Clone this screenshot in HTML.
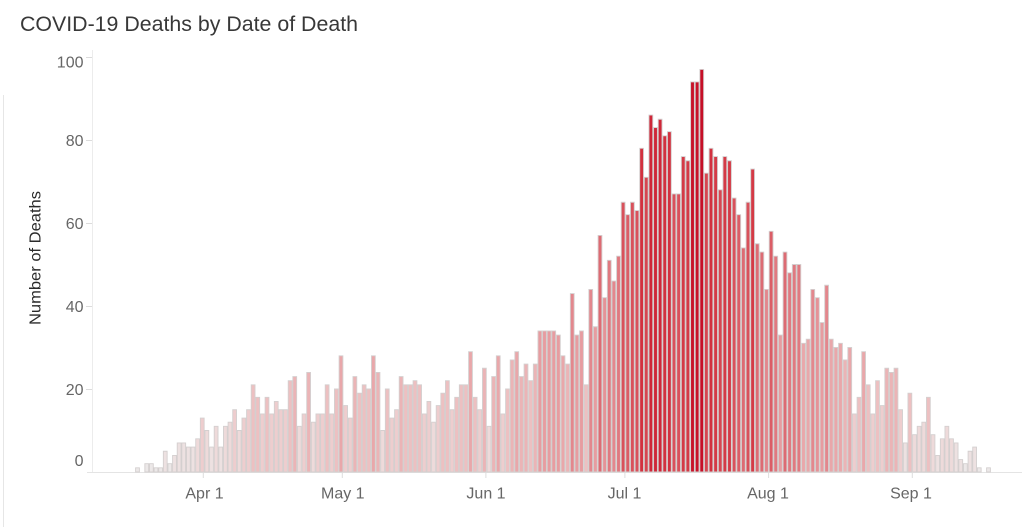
<!DOCTYPE html>
<html>
<head>
<meta charset="utf-8">
<style>
html,body{margin:0;padding:0;background:#fff;}
svg{display:block;}
text{font-family:"Liberation Sans",sans-serif;}
.b path{vector-effect:non-scaling-stroke;stroke:#d4cfcf;stroke-width:0.9;}
</style>
</head>
<body>
<svg width="1024" height="527" viewBox="0 0 1024 527" xmlns="http://www.w3.org/2000/svg">
<rect x="0" y="0" width="1024" height="527" fill="#fff"/>
<text x="20" y="31" font-size="21.5" fill="#383838" textLength="338" lengthAdjust="spacingAndGlyphs">COVID-19 Deaths by Date of Death</text>
<line x1="3.5" y1="95" x2="3.5" y2="527" stroke="#e6e6e6" stroke-width="1"/>
<text transform="translate(40.5,258) rotate(-90)" text-anchor="middle" font-size="16" fill="#2a2a2a" textLength="134" lengthAdjust="spacingAndGlyphs">Number of Deaths</text>
<line x1="92.5" y1="50" x2="92.5" y2="472" stroke="#ececec" stroke-width="1"/>
<path d="M86 57.5H92M86 140.5H92M86 223.5H92M86 306.5H92M86 389.5H92" stroke="#dcdcdc" stroke-width="1"/>
<g font-size="16" fill="#666" text-anchor="end">
<text x="83.5" y="67.5">100</text>
<text x="83.5" y="146">80</text>
<text x="83.5" y="229">60</text>
<text x="83.5" y="312">40</text>
<text x="83.5" y="395">20</text>
<text x="83.5" y="466">0</text>
</g>
<line x1="87" y1="472.5" x2="1022" y2="472.5" stroke="#e4e4e4" stroke-width="1"/>
<path d="M203.3 473V478M342.3 473V478M485.9 473V478M624.9 473V478M768.6 473V478M912.3 473V478" stroke="#dedede" stroke-width="1"/>
<g font-size="16" fill="#666" text-anchor="middle">
<text x="204.5" y="498.5">Apr 1</text>
<text x="342.8" y="498.5">May 1</text>
<text x="486" y="498.5">Jun 1</text>
<text x="624.5" y="498.5">Jul 1</text>
<text x="768" y="498.5">Aug 1</text>
<text x="911" y="498.5">Sep 1</text>
</g>
<g class="b" transform="translate(135.6,472) scale(4.625,-4.15)">
<path fill="#ece8e8" d="M0 0h.82v1h-.82zM2 0h.82v2h-.82zM3 0h.82v2h-.82zM4 0h.82v1h-.82zM5 0h.82v1h-.82zM7 0h.82v2h-.82zM179 0h.82v2h-.82zM182 0h.82v1h-.82zM184 0h.82v1h-.82z"/>
<path fill="#ede1e1" d="M6 0h.82v5h-.82zM8 0h.82v4h-.82zM9 0h.82v7h-.82zM10 0h.82v7h-.82zM11 0h.82v6h-.82zM12 0h.82v6h-.82zM16 0h.82v6h-.82zM18 0h.82v6h-.82zM166 0h.82v7h-.82zM173 0h.82v4h-.82zM177 0h.82v7h-.82zM178 0h.82v3h-.82zM180 0h.82v5h-.82zM181 0h.82v6h-.82z"/>
<path fill="#eedada" d="M13 0h.82v8h-.82zM15 0h.82v10h-.82zM17 0h.82v11h-.82zM19 0h.82v11h-.82zM20 0h.82v12h-.82zM22 0h.82v10h-.82zM35 0h.82v11h-.82zM38 0h.82v12h-.82zM53 0h.82v10h-.82zM64 0h.82v12h-.82zM76 0h.82v11h-.82zM168 0h.82v9h-.82zM169 0h.82v11h-.82zM170 0h.82v12h-.82zM172 0h.82v9h-.82zM174 0h.82v8h-.82zM175 0h.82v11h-.82zM176 0h.82v8h-.82z"/>
<path fill="#eecdce" d="M14 0h.82v13h-.82zM21 0h.82v15h-.82zM23 0h.82v13h-.82zM24 0h.82v15h-.82zM27 0h.82v14h-.82zM29 0h.82v14h-.82zM30 0h.82v17h-.82zM31 0h.82v15h-.82zM32 0h.82v15h-.82zM36 0h.82v14h-.82zM39 0h.82v14h-.82zM40 0h.82v14h-.82zM42 0h.82v14h-.82zM45 0h.82v16h-.82zM46 0h.82v13h-.82zM55 0h.82v13h-.82zM56 0h.82v15h-.82zM62 0h.82v14h-.82zM63 0h.82v17h-.82zM65 0h.82v16h-.82zM68 0h.82v15h-.82zM74 0h.82v15h-.82zM79 0h.82v14h-.82zM155 0h.82v14h-.82zM159 0h.82v14h-.82zM161 0h.82v16h-.82zM165 0h.82v15h-.82z"/>
<path fill="#edc0c1" d="M25 0h.82v21h-.82zM26 0h.82v18h-.82zM28 0h.82v18h-.82zM33 0h.82v22h-.82zM41 0h.82v21h-.82zM43 0h.82v20h-.82zM48 0h.82v19h-.82zM49 0h.82v21h-.82zM50 0h.82v20h-.82zM54 0h.82v20h-.82zM58 0h.82v21h-.82zM59 0h.82v21h-.82zM60 0h.82v22h-.82zM61 0h.82v21h-.82zM66 0h.82v19h-.82zM67 0h.82v22h-.82zM69 0h.82v18h-.82zM70 0h.82v21h-.82zM71 0h.82v21h-.82zM73 0h.82v18h-.82zM80 0h.82v20h-.82zM85 0h.82v22h-.82zM97 0h.82v21h-.82zM156 0h.82v18h-.82zM158 0h.82v21h-.82zM160 0h.82v22h-.82zM167 0h.82v19h-.82zM171 0h.82v18h-.82z"/>
<path fill="#ebb4b6" d="M34 0h.82v23h-.82zM37 0h.82v24h-.82zM47 0h.82v23h-.82zM52 0h.82v24h-.82zM57 0h.82v23h-.82zM75 0h.82v25h-.82zM77 0h.82v23h-.82zM81 0h.82v27h-.82zM83 0h.82v23h-.82zM84 0h.82v26h-.82zM86 0h.82v26h-.82zM93 0h.82v26h-.82zM153 0h.82v27h-.82zM162 0h.82v25h-.82zM163 0h.82v24h-.82zM164 0h.82v25h-.82z"/>
<path fill="#e9a7aa" d="M44 0h.82v28h-.82zM51 0h.82v28h-.82zM72 0h.82v29h-.82zM78 0h.82v28h-.82zM82 0h.82v29h-.82zM92 0h.82v28h-.82zM144 0h.82v31h-.82zM145 0h.82v32h-.82zM150 0h.82v32h-.82zM151 0h.82v30h-.82zM152 0h.82v31h-.82zM154 0h.82v30h-.82zM157 0h.82v29h-.82z"/>
<path fill="#e79ca0" d="M87 0h.82v34h-.82zM88 0h.82v34h-.82zM89 0h.82v34h-.82zM90 0h.82v34h-.82zM91 0h.82v33h-.82zM95 0h.82v33h-.82zM96 0h.82v34h-.82zM99 0h.82v35h-.82zM139 0h.82v33h-.82zM148 0h.82v36h-.82z"/>
<path fill="#e59297" d="M101 0h.82v42h-.82zM147 0h.82v42h-.82z"/>
<path fill="#e3878d" d="M94 0h.82v43h-.82zM98 0h.82v44h-.82zM103 0h.82v46h-.82zM136 0h.82v44h-.82zM146 0h.82v44h-.82zM149 0h.82v45h-.82z"/>
<path fill="#e07980" d="M102 0h.82v51h-.82zM104 0h.82v52h-.82zM138 0h.82v52h-.82zM141 0h.82v48h-.82zM142 0h.82v50h-.82zM143 0h.82v50h-.82z"/>
<path fill="#dd6b73" d="M100 0h.82v57h-.82zM131 0h.82v54h-.82zM134 0h.82v55h-.82zM135 0h.82v53h-.82zM140 0h.82v53h-.82z"/>
<path fill="#db5d66" d="M106 0h.82v62h-.82zM130 0h.82v62h-.82zM137 0h.82v58h-.82z"/>
<path fill="#d9515b" d="M105 0h.82v65h-.82zM107 0h.82v65h-.82zM108 0h.82v63h-.82zM116 0h.82v67h-.82zM117 0h.82v67h-.82zM129 0h.82v66h-.82zM132 0h.82v65h-.82z"/>
<path fill="#d64650" d="M110 0h.82v71h-.82zM123 0h.82v72h-.82zM126 0h.82v68h-.82z"/>
<path fill="#d43a46" d="M118 0h.82v76h-.82zM119 0h.82v75h-.82zM125 0h.82v76h-.82zM127 0h.82v76h-.82zM128 0h.82v75h-.82zM133 0h.82v73h-.82z"/>
<path fill="#d2313f" d="M109 0h.82v78h-.82zM114 0h.82v81h-.82zM115 0h.82v82h-.82zM124 0h.82v78h-.82z"/>
<path fill="#cf2738" d="M111 0h.82v86h-.82zM112 0h.82v83h-.82zM113 0h.82v85h-.82z"/>
<path fill="#c81329" d="M120 0h.82v94h-.82zM121 0h.82v94h-.82z"/>
<path fill="#c60f27" d="M122 0h.82v97h-.82z"/>
</g>
</svg>
</body>
</html>
